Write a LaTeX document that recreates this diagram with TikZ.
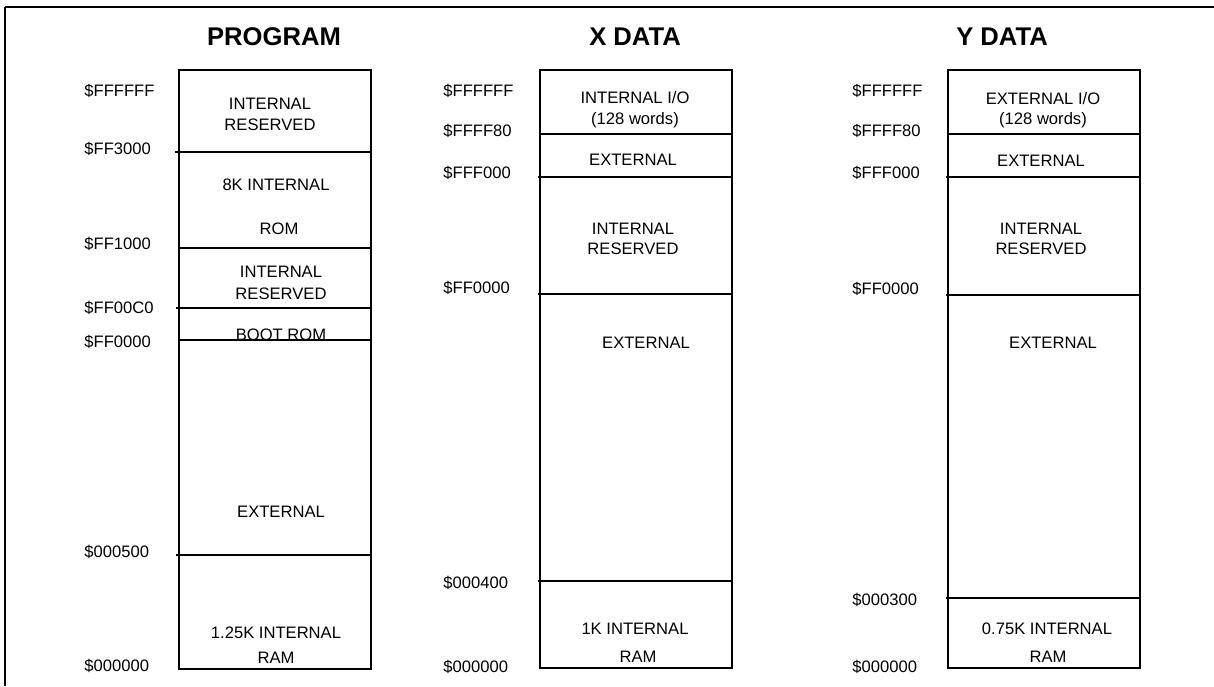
\documentclass[tikz,border=0pt]{standalone}
\usepackage{fontspec}
\setmainfont{Liberation Sans}
\begin{document}
\begin{tikzpicture}[x=0.5pt,y=-0.5pt,
  frameline/.style={line width=1.1pt},
  membox/.style={draw,line width=1.1pt},
  divider/.style={line width=1.1pt},
  title/.style={anchor=base,inner sep=0pt,font=\fontsize{12.8}{14}\selectfont\bfseries},
  addr/.style={anchor=base west,inner sep=0pt,font=\fontsize{8.3}{10}\selectfont},
  region/.style={anchor=base,inner sep=0pt,font=\fontsize{8.3}{10}\selectfont}]
\useasboundingbox (0,0) rectangle (1214,686);
% page frame: top and left rules
\draw[frameline] (5,7) -- (1214,7);
\draw[frameline] (5,7) -- (5,686);

% ---------------- PROGRAM memory ----------------
\node[title] (tP) at (274,45) {PROGRAM};
\draw[membox] (179,70) rectangle (371,669);
\draw[divider] (175,152) -- (371,152);
\draw[divider] (179,248) -- (371,248);
\draw[divider] (176,308) -- (371,308);
\draw[divider] (179,340) -- (371,340);
\draw[divider] (176,555) -- (371,555);
\node[addr] (p1) at (84,96) {\$FFFFFF};
\node[addr] (p2) at (84,154) {\$FF3000};
\node[addr] (p3) at (84,249) {\$FF1000};
\node[addr] (p4) at (84,313) {\$FF00C0};
\node[addr] (p5) at (84,347) {\$FF0000};
\node[addr] (p6) at (84,557) {\$000500};
\node[addr] (p7) at (84,671) {\$000000};
\node[region] (pr1) at (270,109) {INTERNAL};
\node[region] (pr2) at (270,130) {RESERVED};
\node[region] (pr3) at (276,190) {8K INTERNAL};
\node[region] (pr4) at (279,234) {ROM};
\node[region] (pr5) at (281,277) {INTERNAL};
\node[region] (pr6) at (281,299) {RESERVED};
\node[region] (pr7) at (281,340) {BOOT ROM};
\node[region] (pr8) at (281,517) {EXTERNAL};
\node[region] (pr9) at (276,638) {1.25K INTERNAL};
\node[region] (pr10) at (276,663) {RAM};

% ---------------- X DATA memory ----------------
\node[title] (tX) at (635,45) {X DATA};
\draw[membox] (540,70) rectangle (732,668);
\draw[divider] (540,134) -- (732,134);
\draw[divider] (538,177) -- (732,177);
\draw[divider] (538,294) -- (732,294);
\draw[divider] (538,581) -- (732,581);
\node[addr] (x1) at (443,96) {\$FFFFFF};
\node[addr] (x2) at (443,136) {\$FFFF80};
\node[addr] (x3) at (443,178) {\$FFF000};
\node[addr] (x4) at (443,293) {\$FF0000};
\node[addr] (x5) at (443,588) {\$000400};
\node[addr] (x6) at (443,672) {\$000000};
\node[region] (xr1) at (635,103) {INTERNAL I/O};
\node[region] (xr2) at (635,124) {(128 words)};
\node[region] (xr3) at (633,165) {EXTERNAL};
\node[region] (xr4) at (633,234) {INTERNAL};
\node[region] (xr5) at (633,254) {RESERVED};
\node[region] (xr6) at (646,348) {EXTERNAL};
\node[region] (xr7) at (635,634) {1K INTERNAL};
\node[region] (xr8) at (638,662) {RAM};

% ---------------- Y DATA memory ----------------
\node[title] (tY) at (1002,45) {Y DATA};
\draw[membox] (948,70) rectangle (1140,668);
\draw[divider] (948,134) -- (1140,134);
\draw[divider] (946,177) -- (1140,177);
\draw[divider] (946,295) -- (1140,295);
\draw[divider] (946,598) -- (1140,598);
\node[addr] (y1) at (852,96) {\$FFFFFF};
\node[addr] (y2) at (852,136) {\$FFFF80};
\node[addr] (y3) at (852,178) {\$FFF000};
\node[addr] (y4) at (852,294) {\$FF0000};
\node[addr] (y5) at (852,605) {\$000300};
\node[addr] (y6) at (852,672) {\$000000};
\node[region] (yr1) at (1043,104) {EXTERNAL I/O};
\node[region] (yr2) at (1043,124) {(128 words)};
\node[region] (yr3) at (1041,166) {EXTERNAL};
\node[region] (yr4) at (1041,234) {INTERNAL};
\node[region] (yr5) at (1041,254) {RESERVED};
\node[region] (yr6) at (1053,348) {EXTERNAL};
\node[region] (yr7) at (1047,634) {0.75K INTERNAL};
\node[region] (yr8) at (1048,662) {RAM};
\end{tikzpicture}
\end{document}
